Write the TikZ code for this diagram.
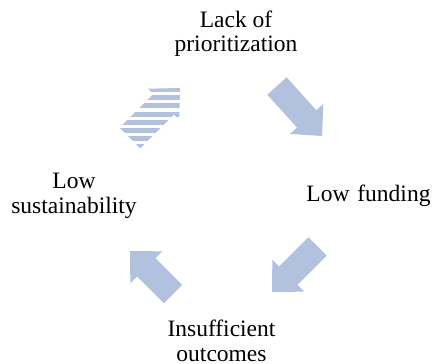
\documentclass[tikz,border=0pt]{standalone}
\usepackage{fontspec}
\setmainfont{Liberation Serif}
\usetikzlibrary{calc}
\definecolor{arrowblue}{RGB}{178,194,222}
\newcommand\arrowpts[5]{% name, tail, tip, shaft half width, head half width
  \coordinate (#1-h) at ($(#3)!23pt!(#2)$);
  \coordinate (#1-1) at ($(#2)!#4!90:(#3)$);
  \coordinate (#1-2) at ($(#1-h)!#4!90:(#3)$);
  \coordinate (#1-3) at ($(#1-h)!#5!90:(#3)$);
  \coordinate (#1-4) at ($(#1-h)!#5!-90:(#3)$);
  \coordinate (#1-5) at ($(#1-h)!#4!-90:(#3)$);
  \coordinate (#1-6) at ($(#2)!#4!-90:(#3)$);
}
\tikzset{
  lbl/.style={inner sep=0pt, align=center, font=\fontsize{23.5pt}{24.5pt}\selectfont, text=black},
  blockfill/.style={fill=arrowblue, draw=none}
}
\begin{document}
\begin{tikzpicture}[x=1pt,y=-1pt]
\useasboundingbox (0,0) rectangle (432,364);
% labels (base anchor = baseline of the last line)
\node[lbl, anchor=base] (lack) at (236,51.7) {Lack of\\prioritization};
\node[lbl, anchor=base] (fund) at (368.5,201.7) {Low\hspace{2pt} funding};
\node[lbl, anchor=base] (sust) at (74,213) {Low\\sustainability};
\node[lbl, anchor=base] (insuf) at (221.5,361) {Insufficient\\outcomes};
% arrow coordinates
\coordinate (t1) at (277,86);    \coordinate (p1) at (322,136);
\coordinate (t2) at (317.5,246.5); \coordinate (p2) at (272,292);
\coordinate (t3) at (173,294);   \coordinate (p3) at (130,251);
\coordinate (t4) at (130,138);   \coordinate (p4) at (180,88);
\arrowpts{a1}{t1}{p1}{13pt}{22.5pt}
\arrowpts{a2}{t2}{p2}{13pt}{22.5pt}
\arrowpts{a3}{t3}{p3}{13pt}{22.5pt}
\arrowpts{a4}{t4}{p4}{14.5pt}{22pt}
\fill[blockfill] (a1-1) -- (a1-2) -- (a1-3) -- (p1) -- (a1-4) -- (a1-5) -- (a1-6) -- cycle;
\fill[blockfill] (a2-1) -- (a2-2) -- (a2-3) -- (p2) -- (a2-4) -- (a2-5) -- (a2-6) -- cycle;
\fill[blockfill] (a3-1) -- (a3-2) -- (a3-3) -- (p3) -- (a3-4) -- (a3-5) -- (a3-6) -- cycle;
\begin{scope}
  \clip (a4-1) -- (a4-2) -- (a4-3) -- (p4) -- (a4-4) -- (a4-5) -- (a4-6) -- cycle;
  \foreach \i in {0,...,7} {
    \fill[blockfill] (100,{87+8.2*\i}) rectangle (200,{92+8.2*\i});
  }
\end{scope}
\end{tikzpicture}
\end{document}
